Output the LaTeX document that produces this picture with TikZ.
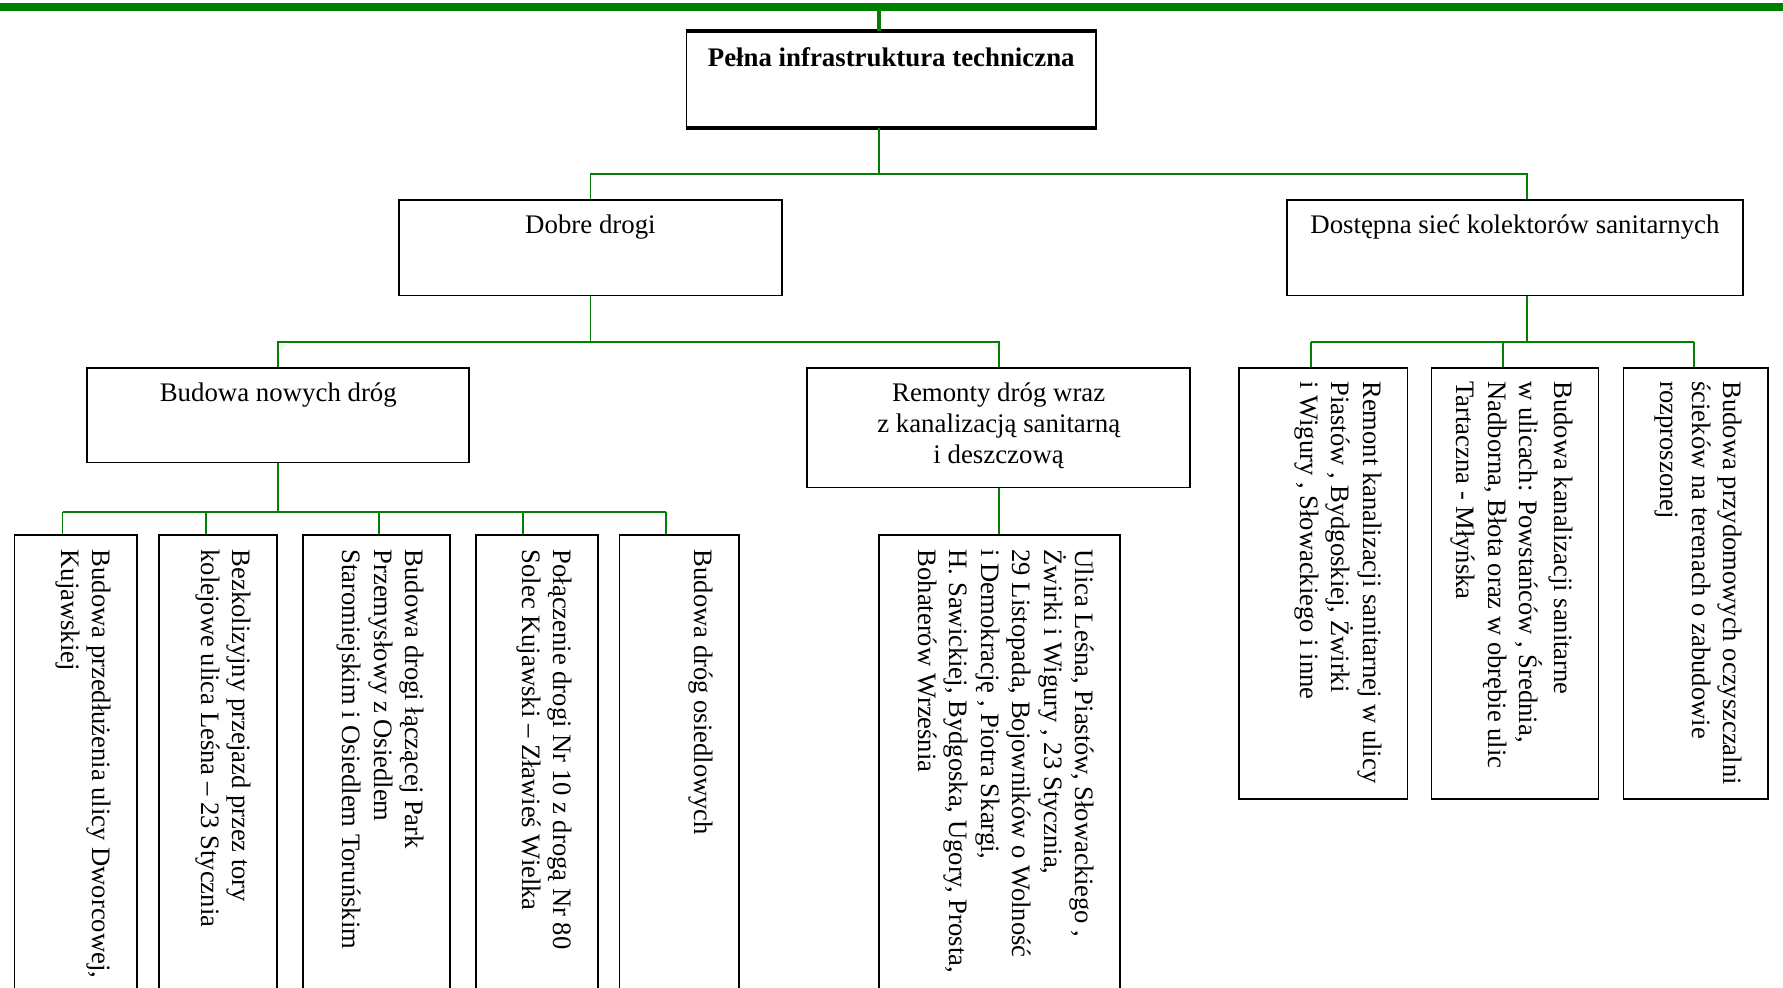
\documentclass[tikz,border=0pt]{standalone}
\usepackage{fontspec}
\setmainfont{Liberation Serif}
\definecolor{lgreen}{RGB}{0,128,0}
\begin{document}
\begin{tikzpicture}[x=0.5pt,y=-0.5pt,
  box/.style={draw=black, line width=0.75pt, fill=white, inner sep=0pt, anchor=north west},
  conn/.style={draw=lgreen, line width=0.8pt},
  vtext/.style={rotate=-90, anchor=north west, inner sep=0pt, align=left, font=\fontsize{11.7}{13.8}\selectfont},
  htext/.style={anchor=north, inner sep=0pt, align=center, font=\fontsize{11.8}{13.6}\selectfont}]
\useasboundingbox (0,0) rectangle (1568,868);

% top bar
\coordinate (barL) at (-10,6);
\coordinate (barR) at (1580,6);
\coordinate (barj) at (773,6);
\draw[lgreen, line width=3.5pt] (barL) -- (barR);

% boxes
\node[box, minimum width=180pt, minimum height=42pt] (top) at (603,27) {};
\draw[line width=1.6pt] (top.north west) -- (top.north east);
\draw[line width=1.6pt] (top.south west) -- (top.south east);
\node[box, minimum width=168.5pt, minimum height=42pt] (dobre) at (350,175) {};
\node[box, minimum width=200.5pt, minimum height=42pt] (dost) at (1131,175) {};
\node[box, minimum width=168pt, minimum height=41.5pt] (bud) at (76,323) {};
\node[box, minimum width=168.5pt, minimum height=52.5pt] (rem) at (709,323) {};

\node[box, minimum width=54pt, minimum height=220pt] (b1) at (12,470) {};
\node[box, minimum width=52pt, minimum height=220pt] (b2) at (139,470) {};
\node[box, minimum width=64.5pt, minimum height=220pt] (b3) at (266,470) {};
\node[box, minimum width=53.5pt, minimum height=220pt] (b4) at (418,470) {};
\node[box, minimum width=52.5pt, minimum height=220pt] (b5) at (544,470) {};
\node[box, minimum width=106pt, minimum height=220pt] (b6) at (772,470) {};

\node[box, minimum width=74pt, minimum height=189.5pt] (k1) at (1089,323) {};
\node[box, minimum width=73.5pt, minimum height=189.5pt] (k2) at (1258,323) {};
\node[box, minimum width=63.5pt, minimum height=189.5pt] (k3) at (1427,323) {};

% connectors
\draw[lgreen, line width=2pt] (barj) -- (barj |- top.north);
\coordinate (j1) at (773,153);
\coordinate (d1) at (1343,153);
\draw[conn] (j1 |- top.south) -- (j1);
\draw[conn] (dobre.north) |- (d1) -- (d1 |- dost.north);

\coordinate (j2) at (519,301);
\draw[conn] (dobre.south) -- (dobre.south |- j2);
\draw[conn] (bud.north) |- (rem.north |- j2) -- (rem.north);

\coordinate (j3) at (245,450);
\coordinate (c1) at (55,450);
\coordinate (c2) at (181,450);
\coordinate (c3) at (333,450);
\coordinate (c4) at (460,450);
\coordinate (c5) at (586,450);
\draw[conn] (bud.south) -- (bud.south |- j3);
\draw[conn] (c1) -- (c5);
\draw[conn] (c1) -- (c1 |- b1.north);
\draw[conn] (c2) -- (c2 |- b2.north);
\draw[conn] (c3) -- (c3 |- b3.north);
\draw[conn] (c4) -- (c4 |- b4.north);
\draw[conn] (c5) -- (c5 |- b5.north);
\draw[conn] (rem.south) -- (rem.south |- b6.north);

\coordinate (j4) at (1343,301);
\coordinate (e1) at (1153,301);
\coordinate (e2) at (1322,301);
\coordinate (e3) at (1490,301);
\draw[conn] (j4 |- dost.south) -- (j4);
\draw[conn] (e1) -- (e3);
\draw[conn] (e1) -- (e1 |- k1.north);
\draw[conn] (e2) -- (e2 |- k2.north);
\draw[conn] (e3) -- (e3 |- k3.north);

% horizontal texts
\node[htext] (ttop) at ([yshift=-6pt]top.north) {\strut\textbf{Pełna infrastruktura techniczna}};
\node[htext] (tdobre) at ([yshift=-5.5pt]dobre.north) {\strut Dobre drogi};
\node[htext] (tdost) at ([yshift=-5.5pt]dost.north) {\strut Dostępna sieć kolektorów sanitarnych};
\node[htext] (tbud) at ([yshift=-5.5pt]bud.north) {\strut Budowa nowych dróg};
\node[htext] (trem) at ([yshift=-5.5pt]rem.north) {\strut Remonty dróg wraz\\z kanalizacją sanitarną\\i deszczową};

% vertical texts
\node[vtext] (tb1) at ([xshift=-10pt,yshift=-6.5pt]b1.north east) {\strut Budowa przedłużenia ulicy Dworcowej,\\Kujawskiej};
\node[vtext] (tb2) at ([xshift=-10pt,yshift=-6.5pt]b2.north east) {\strut Bezkolizyjny przejazd przez tory\\kolejowe ulica Leśna – 23 Stycznia};
\node[vtext] (tb3) at ([xshift=-10pt,yshift=-6.5pt]b3.north east) {\strut Budowa drogi łączącej Park\\Przemysłowy z Osiedlem\\Staromiejskim i Osiedlem Toruńskim};
\node[vtext] (tb4) at ([xshift=-10pt,yshift=-6.5pt]b4.north east) {\strut Połączenie drogi Nr 10 z drogą Nr 80\\Solec Kujawski – Zławieś Wielka};
\node[vtext] (tb5) at ([xshift=-10pt,yshift=-6.5pt]b5.north east) {\strut Budowa dróg osiedlowych};
\node[vtext] (tb6) at ([xshift=-10pt,yshift=-6.5pt]b6.north east) {\strut Ulica Leśna, Piastów, Słowackiego ,\\Żwirki i Wigury , 23 Stycznia,\\29 Listopada, Bojowników o Wolność\\i Demokrację , Piotra Skargi,\\H. Sawickiej, Bydgoska, Ugory, Prosta,\\Bohaterów Września};

\node[vtext] (tk1) at ([xshift=-10pt,yshift=-6pt]k1.north east) {\strut Remont kanalizacji sanitarnej w ulicy\\Piastów , Bydgoskiej, Żwirki\\i Wigury , Słowackiego i inne};
\node[vtext] (tk2) at ([xshift=-10pt,yshift=-6pt]k2.north east) {\strut Budowa kanalizacji sanitarne\\w ulicach: Powstańców , Średnia,\\Nadborna, Błota oraz w obrębie ulic\\Tartaczna - Młyńska};
\node[vtext] (tk3) at ([xshift=-10pt,yshift=-6pt]k3.north east) {\strut Budowa przydomowych oczyszczalni\\ścieków na terenach o zabudowie\\rozproszonej};
\end{tikzpicture}
\end{document}
